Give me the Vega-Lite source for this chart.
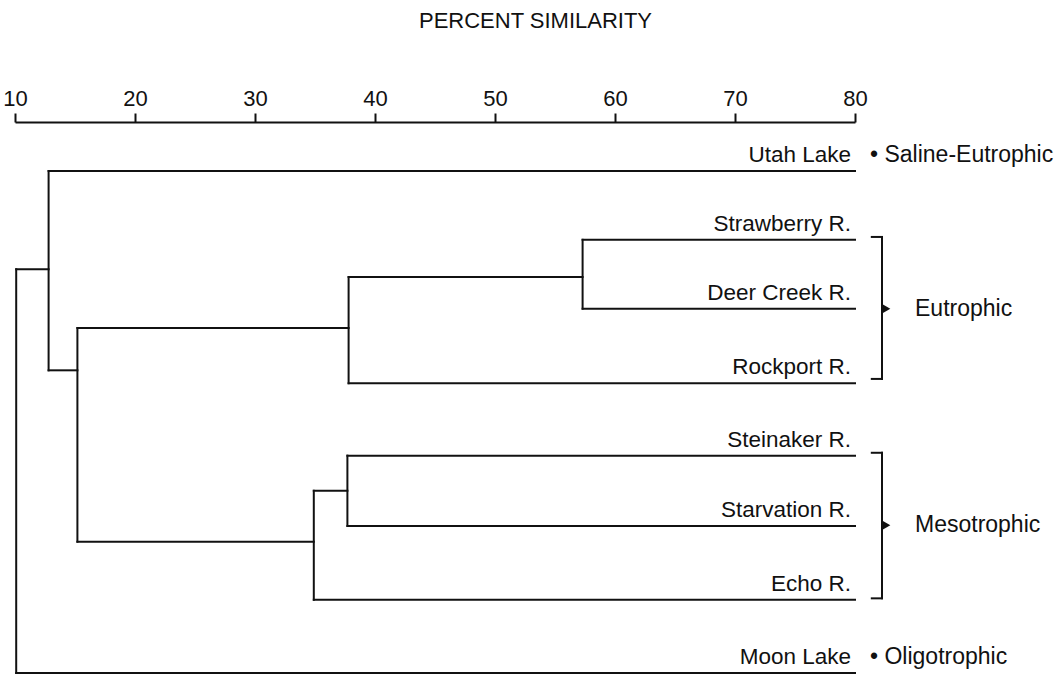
{
  "$schema": "https://vega.github.io/schema/vega-lite/v6.json",
  "width": 840,
  "height": 553,
  "autosize": {"type": "none"},
  "padding": {"left": 15, "top": 122, "right": 209, "bottom": 0},
  "background": "white",
  "config": {"view": {"stroke": null}, "font": "Liberation Sans"},
  "datasets": {
    "segments": [
      {"x": 12.8, "x2": 80, "y": 1, "y2": 1},
      {"x": 57.3, "x2": 80, "y": 1.96, "y2": 1.96},
      {"x": 57.3, "x2": 80, "y": 2.92, "y2": 2.92},
      {"x": 37.8, "x2": 80, "y": 3.96, "y2": 3.96},
      {"x": 37.7, "x2": 80, "y": 4.97, "y2": 4.97},
      {"x": 37.7, "x2": 80, "y": 5.95, "y2": 5.95},
      {"x": 34.9, "x2": 80, "y": 6.98, "y2": 6.98},
      {"x": 10.1, "x2": 80, "y": 8, "y2": 8},
      {"x": 37.8, "x2": 57.3, "y": 2.48, "y2": 2.48},
      {"x": 15.2, "x2": 37.8, "y": 3.19, "y2": 3.19},
      {"x": 34.9, "x2": 37.7, "y": 5.46, "y2": 5.46},
      {"x": 15.2, "x2": 34.9, "y": 6.17, "y2": 6.17},
      {"x": 12.8, "x2": 15.2, "y": 3.78, "y2": 3.78},
      {"x": 10.1, "x2": 12.8, "y": 2.37, "y2": 2.37},
      {"x": 57.3, "x2": 57.3, "y": 1.96, "y2": 2.92},
      {"x": 37.8, "x2": 37.8, "y": 2.48, "y2": 3.96},
      {"x": 37.7, "x2": 37.7, "y": 4.97, "y2": 5.95},
      {"x": 34.9, "x2": 34.9, "y": 5.46, "y2": 6.98},
      {"x": 15.2, "x2": 15.2, "y": 3.19, "y2": 6.17},
      {"x": 12.8, "x2": 12.8, "y": 1, "y2": 3.78},
      {"x": 10.1, "x2": 10.1, "y": 2.37, "y2": 8},
      {"x": 81.4, "x2": 82.25, "y": 1.92, "y2": 1.92},
      {"x": 82.25, "x2": 82.25, "y": 1.92, "y2": 3.9},
      {"x": 81.4, "x2": 82.25, "y": 3.9, "y2": 3.9},
      {"x": 81.4, "x2": 82.25, "y": 4.93, "y2": 4.93},
      {"x": 82.25, "x2": 82.25, "y": 4.93, "y2": 6.96},
      {"x": 81.4, "x2": 82.25, "y": 6.96, "y2": 6.96}
    ],
    "leaves": [
      {"name": "Utah Lake", "y": 1},
      {"name": "Strawberry R.", "y": 1.96},
      {"name": "Deer Creek R.", "y": 2.92},
      {"name": "Rockport R.", "y": 3.96},
      {"name": "Steinaker R.", "y": 4.97},
      {"name": "Starvation R.", "y": 5.95},
      {"name": "Echo R.", "y": 6.98},
      {"name": "Moon Lake", "y": 8}
    ],
    "bullets": [
      {"label": "• Saline-Eutrophic", "x": 81.25, "y": 1},
      {"label": "• Oligotrophic", "x": 81.25, "y": 8}
    ],
    "groups": [
      {"label": "Eutrophic", "x": 85.0, "y": 2.92},
      {"label": "Mesotrophic", "x": 85.0, "y": 5.94}
    ]
  },
  "layer": [
    {
      "data": {"name": "segments"},
      "mark": {"type": "rule", "color": "#111111", "strokeWidth": 2, "strokeCap": "square"},
      "encoding": {
        "x": {
          "field": "x",
          "type": "quantitative",
          "scale": {"domain": [10, 80], "nice": false, "zero": false},
          "axis": {
            "orient": "top",
            "values": [10, 20, 30, 40, 50, 60, 70, 80],
            "grid": false,
            "domainColor": "#111111",
            "domainWidth": 2,
            "tickColor": "#111111",
            "tickWidth": 2,
            "tickSize": 9,
            "labelFont": "Liberation Sans",
            "labelFontSize": 22,
            "labelColor": "#111111",
            "labelPadding": 3,
            "labelFlush": false,
            "title": "PERCENT SIMILARITY",
            "titleFont": "Liberation Sans",
            "titleFontSize": 22,
            "titleFontWeight": "normal",
            "titleColor": "#111111",
            "titleX": 520,
            "titleY": -95,
            "titleAlign": "center",
            "titleBaseline": "alphabetic"
          }
        },
        "x2": {"field": "x2"},
        "y": {
          "field": "y",
          "type": "quantitative",
          "scale": {"domain": [0.317, 8.029], "reverse": true, "nice": false, "zero": false},
          "axis": null
        },
        "y2": {"field": "y2"}
      }
    },
    {
      "data": {"name": "leaves"},
      "mark": {"type": "text", "align": "right", "baseline": "alphabetic", "dx": -4, "dy": -9, "font": "Liberation Sans", "fontSize": 22.5, "color": "#111111"},
      "encoding": {
        "x": {"datum": 80, "type": "quantitative"},
        "y": {"field": "y", "type": "quantitative"},
        "text": {"field": "name"}
      }
    },
    {
      "data": {"name": "bullets"},
      "mark": {"type": "text", "align": "left", "baseline": "alphabetic", "dy": -9, "font": "Liberation Sans", "fontSize": 23, "color": "#111111"},
      "encoding": {
        "x": {"field": "x", "type": "quantitative"},
        "y": {"field": "y", "type": "quantitative"},
        "text": {"field": "label"}
      }
    },
    {
      "data": {"name": "groups"},
      "mark": {"type": "text", "align": "left", "baseline": "middle", "font": "Liberation Sans", "fontSize": 23, "color": "#111111"},
      "encoding": {
        "x": {"field": "x", "type": "quantitative"},
        "y": {"field": "y", "type": "quantitative"},
        "text": {"field": "label"}
      }
    },
    {
      "data": {"name": "groups"},
      "mark": {"type": "point", "shape": "triangle-right", "filled": true, "size": 100, "color": "#111111", "opacity": 1, "xOffset": 31},
      "encoding": {
        "x": {"datum": 80, "type": "quantitative"},
        "y": {"field": "y", "type": "quantitative"}
      }
    }
  ]
}
